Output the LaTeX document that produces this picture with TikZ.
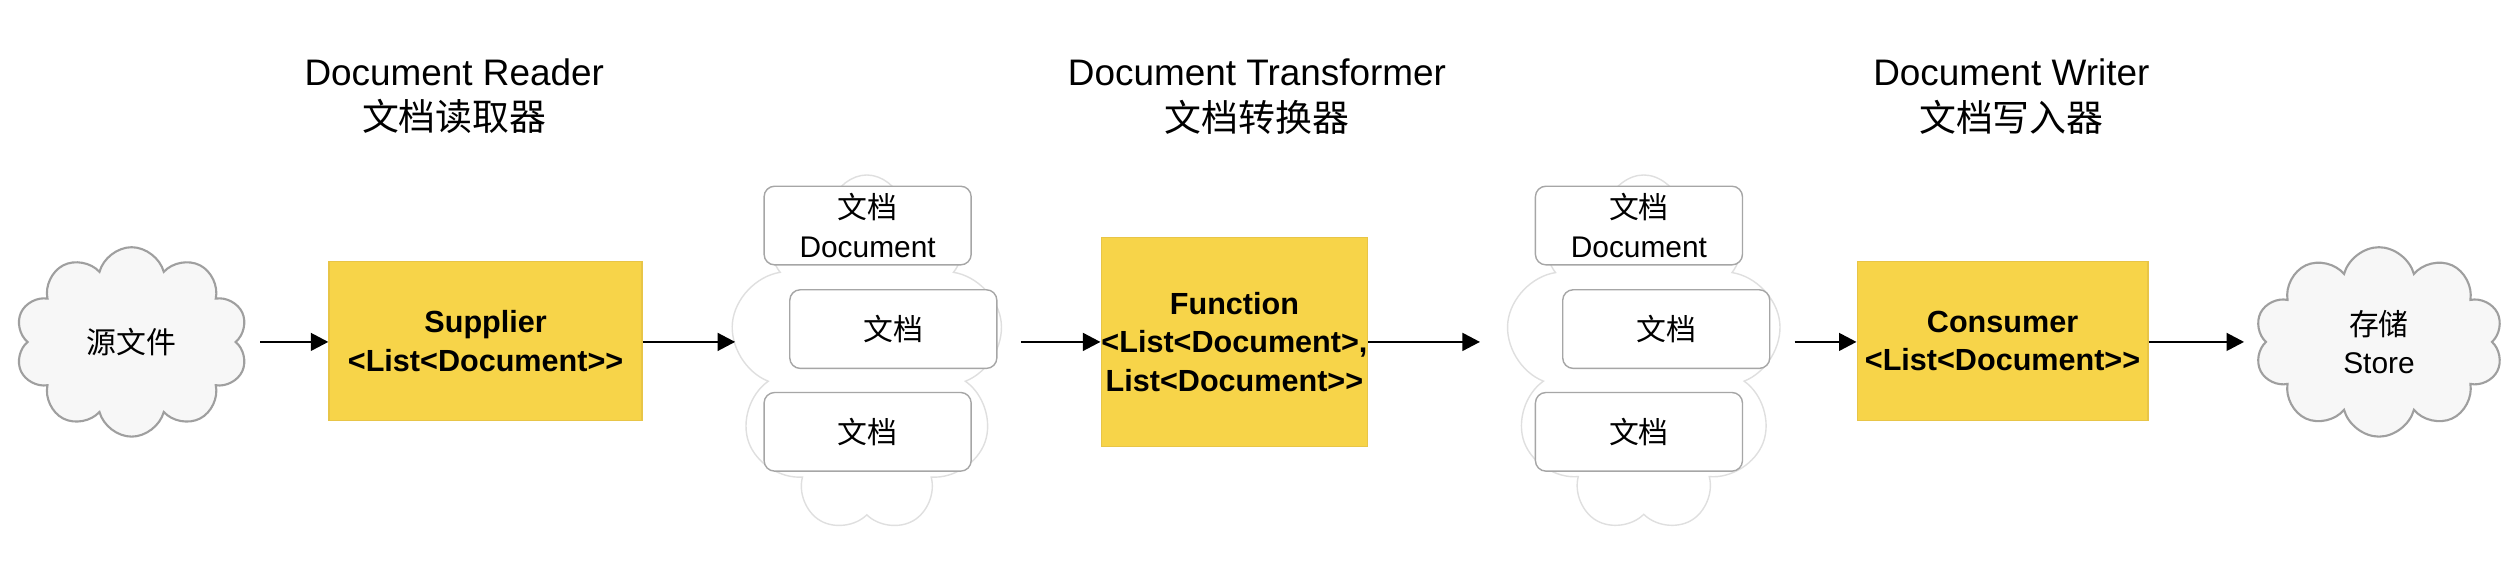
\documentclass[tikz,border=0pt]{standalone}
\usepackage{fontspec}
\setmainfont{Liberation Sans}[Ligatures=NoCommon]
\newfontfamily\cjk{Noto Sans CJK SC}
\usetikzlibrary{shapes.symbols,arrows.meta}
\definecolor{ybox}{HTML}{F7D449}
\definecolor{yedge}{HTML}{E8C547}
\newcommand{\gtgt}{>{}>}
\tikzset{
  ttl/.style={align=center,font=\fontsize{10.5}{13}\selectfont},
  ybx/.style={draw=yedge,fill=ybox,align=center,font=\bfseries\fontsize{8.7}{11}\selectfont,inner sep=0pt},
  doc/.style={draw=gray!70,rounded corners=3pt,fill=white,align=center,minimum width=129*0.01605cm,minimum height=49*0.01605cm,inner sep=0pt,font=\fontsize{8.5}{11}\selectfont},
  endcloud/.style={cloud,cloud puffs=10,cloud ignores aspect,draw=gray!75,fill=gray!6,line width=0.6pt,align=center,font=\fontsize{8.5}{11}\selectfont,inner sep=0pt},
  bigcloud/.style={cloud,cloud puffs=9,cloud ignores aspect,draw=gray!25,fill=white,inner sep=0pt},
  arr/.style={-{Triangle[length=5pt,width=5pt]},line width=0.8pt}
}
\begin{document}
\begin{tikzpicture}[x=0.01605cm,y=-0.01605cm]
\useasboundingbox (0,0) rectangle (1568,349.5);
% titles
\node[ttl] (t1) at (283,60) {Document Reader\\{\cjk 文档读取器}};
\node[ttl] (t2) at (783,60) {Document Transformer\\{\cjk 文档转换器}};
\node[ttl] (t3) at (1253,60) {Document Writer\\{\cjk 文档写入器}};
% source cloud
\node[endcloud,minimum width=145*0.01605cm,minimum height=118*0.01605cm] (src) at (82,213) {\cjk 源文件};
\node[ybx,minimum width=195*0.01605cm,minimum height=99*0.01605cm] (sup) at (302.5,212.5) {Supplier\\<List<Document\gtgt};
% cloud 2
\node[bigcloud,minimum width=170*0.01605cm,minimum height=222*0.01605cm] (c2) at (540,220) {};
\node[doc] (d11) at (540.5,140.5) {{\cjk 文档}\\Document};
\node[doc] (d12) at (556.5,205) {\cjk 文档};
\node[doc] (d13) at (540.5,269) {\cjk 文档};
\node[ybx,minimum width=166*0.01605cm,minimum height=130*0.01605cm] (fun) at (769,213) {Function\\<List<Document>,\\List<Document\gtgt};
% cloud 3
\node[bigcloud,minimum width=172*0.01605cm,minimum height=222*0.01605cm] (c3) at (1024,220) {};
\node[doc] (d21) at (1021,140.5) {{\cjk 文档}\\Document};
\node[doc] (d22) at (1038,205) {\cjk 文档};
\node[doc] (d23) at (1021,269) {\cjk 文档};
\node[ybx,minimum width=181*0.01605cm,minimum height=99*0.01605cm] (con) at (1247.5,212.5) {Consumer\\<List<Document\gtgt};
\node[endcloud,minimum width=155*0.01605cm,minimum height=118*0.01605cm] (sto) at (1482,213) {{\cjk 存储}\\Store};
% arrows
\coordinate (a1) at (162,213);
\draw[arr] (a1) -- (a1 -| sup.west);
\coordinate (a2) at (458,213);
\draw[arr] (a2 -| sup.east) -- (a2);
\coordinate (a3) at (636,213);
\draw[arr] (a3) -- (a3 -| fun.west);
\coordinate (a4) at (922,213);
\draw[arr] (a4 -| fun.east) -- (a4);
\coordinate (a5) at (1118,213);
\draw[arr] (a5) -- (a5 -| con.west);
\coordinate (a6) at (1398,213);
\draw[arr] (a6 -| con.east) -- (a6);
\end{tikzpicture}
\end{document}
